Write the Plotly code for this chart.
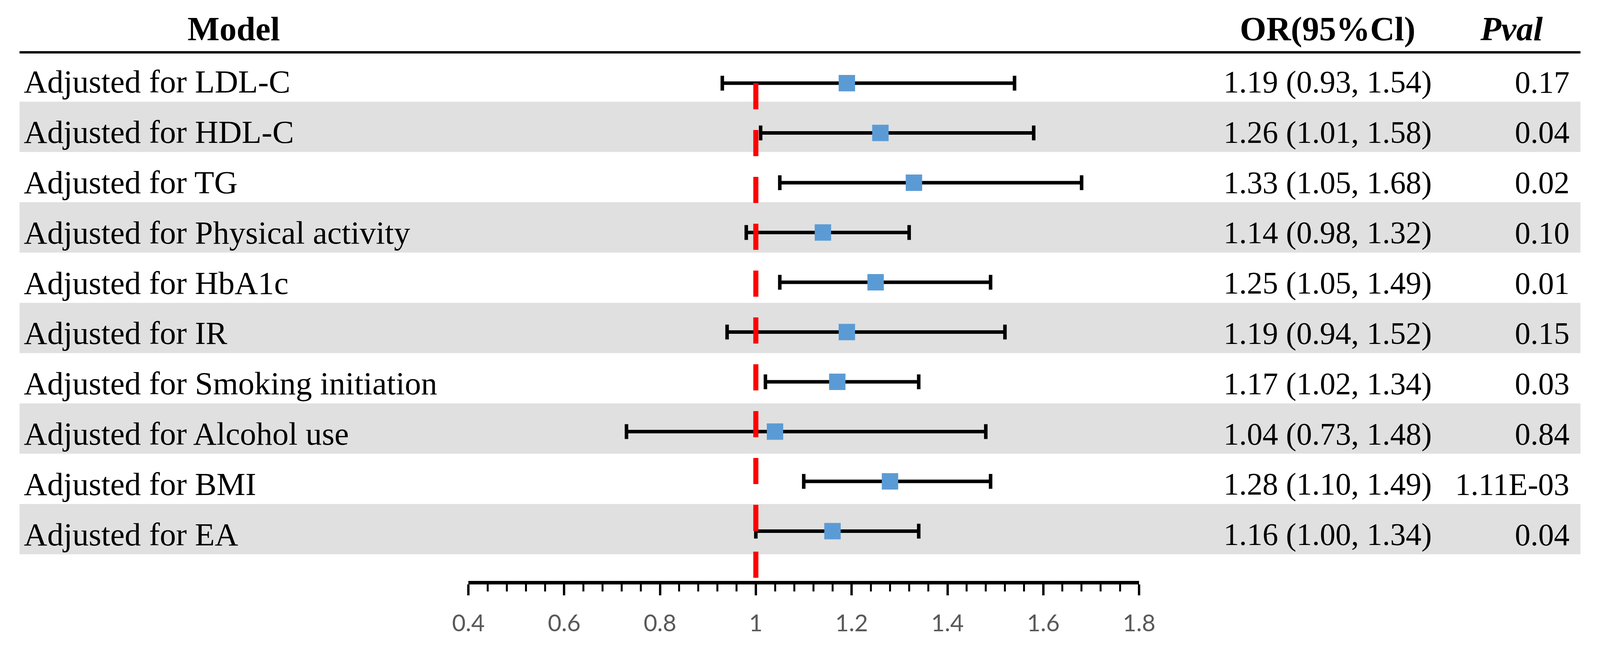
import plotly.graph_objects as go

# ---------------- data ----------------
models = [
    "Adjusted for LDL-C",
    "Adjusted for HDL-C",
    "Adjusted for TG",
    "Adjusted for Physical activity",
    "Adjusted for HbA1c",
    "Adjusted for IR",
    "Adjusted for Smoking initiation",
    "Adjusted for Alcohol use",
    "Adjusted for BMI",
    "Adjusted for EA",
]
or_vals = [1.19, 1.26, 1.33, 1.14, 1.25, 1.19, 1.17, 1.04, 1.28, 1.16]
ci_low = [0.93, 1.01, 1.05, 0.98, 1.05, 0.94, 1.02, 0.73, 1.10, 1.00]
ci_high = [1.54, 1.58, 1.68, 1.32, 1.49, 1.52, 1.34, 1.48, 1.49, 1.34]
pvals = ["0.17", "0.04", "0.02", "0.10", "0.01", "0.15", "0.03", "0.84", "1.11E-03", "0.04"]
x_ticks = [0.4, 0.6, 0.8, 1.0, 1.2, 1.4, 1.6, 1.8]
x_tick_labels = ["0.4", "0.6", "0.8", "1", "1.2", "1.4", "1.6", "1.8"]
ref_value = 1.0

# ---------------- layout constants ----------------
REF_W, REF_H = 4813, 1688      # reference design size
VIEW_W, VIEW_H = 4096, 1688    # browser viewport
BODY_M = 8                      # default body margin
FW, FH = VIEW_W - 2 * BODY_M, VIEW_H - 2 * BODY_M
SX = VIEW_W / REF_W
FS = 0.875                      # font scale

ROW_TOP = 131.7
ROW_H = 128.8
BASE_OFF = 105.8
n = len(models)


def px(xr):
    return (xr * SX - BODY_M) / FW


def py(yr):
    return 1 - (yr - BODY_M) / FH


ypos = list(range(n, 0, -1))

fig = go.Figure()

fig.add_trace(go.Scatter(
    x=or_vals, y=ypos, mode="markers",
    marker=dict(symbol="square", size=42, color="#5B9BD5", line=dict(width=0)),
    error_x=dict(type="data", symmetric=False,
                 array=[h - o for h, o in zip(ci_high, or_vals)],
                 arrayminus=[o - l for o, l in zip(or_vals, ci_low)],
                 thickness=9, width=19, color="black"),
    showlegend=False, hoverinfo="skip",
))

fig.add_trace(go.Scatter(
    x=[ref_value, ref_value], y=[n, 0], mode="lines",
    line=dict(color="#FF0000", width=13, dash="67px,53px"),
    showlegend=False, hoverinfo="skip",
))

shapes = []
for i in range(n):
    if i % 2 == 1:
        y0 = ROW_TOP + ROW_H * i
        shapes.append(dict(type="rect", xref="paper", yref="paper",
                           x0=max(px(8), 0), x1=1, y0=py(y0 + ROW_H), y1=py(y0),
                           fillcolor="#E0E0E0", line=dict(width=0), layer="below"))
shapes.append(dict(type="line", xref="paper", yref="paper",
                   x0=0, x1=1, y0=py(134), y1=py(134),
                   line=dict(color="black", width=6)))

annotations = []
HF = round(99 * FS)
LF = round(95 * FS)
VF = round(92 * FS)
serif = "Liberation Serif"
hy = 103 - 0.3375 * HF
for txt, xc in [("<b>Model</b>", 667), ("<b>OR(95%Cl)</b>", 4027), ("<b><i>Pval</i></b>", 4592)]:
    annotations.append(dict(text=txt, x=px(xc), y=py(hy), xref="paper", yref="paper",
                            xanchor="center", yanchor="middle", showarrow=False,
                            font=dict(family=serif, size=HF, color="black")))

for i in range(n):
    base = ROW_TOP + ROW_H * i + BASE_OFF
    annotations.append(dict(text=models[i], x=px(20), y=py(base - 0.3375 * LF),
                            xref="paper", yref="paper", xanchor="left", yanchor="middle",
                            showarrow=False, font=dict(family=serif, size=LF, color="black")))
    ortxt = f"{or_vals[i]:.2f} ({ci_low[i]:.2f}, {ci_high[i]:.2f})"
    annotations.append(dict(text=ortxt, x=px(4027), y=py(base - 0.3375 * VF),
                            xref="paper", yref="paper", xanchor="center", yanchor="middle",
                            showarrow=False, font=dict(family=serif, size=VF, color="black")))
    annotations.append(dict(text=pvals[i], x=px(4772), y=py(base - 0.3375 * VF),
                            xref="paper", yref="paper", xanchor="right", yanchor="middle",
                            showarrow=False, font=dict(family=serif, size=VF, color="black")))

PLOT_BOTTOM = 1488
UNIT = 127.5
YMAX = 11
plot_top = PLOT_BOTTOM - UNIT * YMAX

fig.update_layout(
    width=FW, height=FH, autosize=False,
    margin=dict(l=0, r=0, t=0, b=0, pad=0),
    paper_bgcolor="white", plot_bgcolor="rgba(0,0,0,0)",
    shapes=shapes, annotations=annotations,
    xaxis=dict(domain=[px(1388), px(3448)], range=[0.4, 1.8],
               tickvals=x_ticks, ticktext=x_tick_labels,
               showgrid=False, zeroline=False,
               showline=True, linecolor="black", linewidth=9,
               ticks="outside", ticklen=28, tickwidth=6, tickcolor="black",
               ticklabelstandoff=20,
               tickfont=dict(family="Lato", size=60, color="#595959"),
               minor=dict(dtick=0.04, tick0=0.4, ticks="outside", ticklen=18,
                          tickwidth=5, tickcolor="black", showgrid=False),
               fixedrange=True),
    yaxis=dict(domain=[py(PLOT_BOTTOM), py(plot_top)], range=[0, YMAX],
               visible=False, fixedrange=True),
)

fig.write_html("out.html")
